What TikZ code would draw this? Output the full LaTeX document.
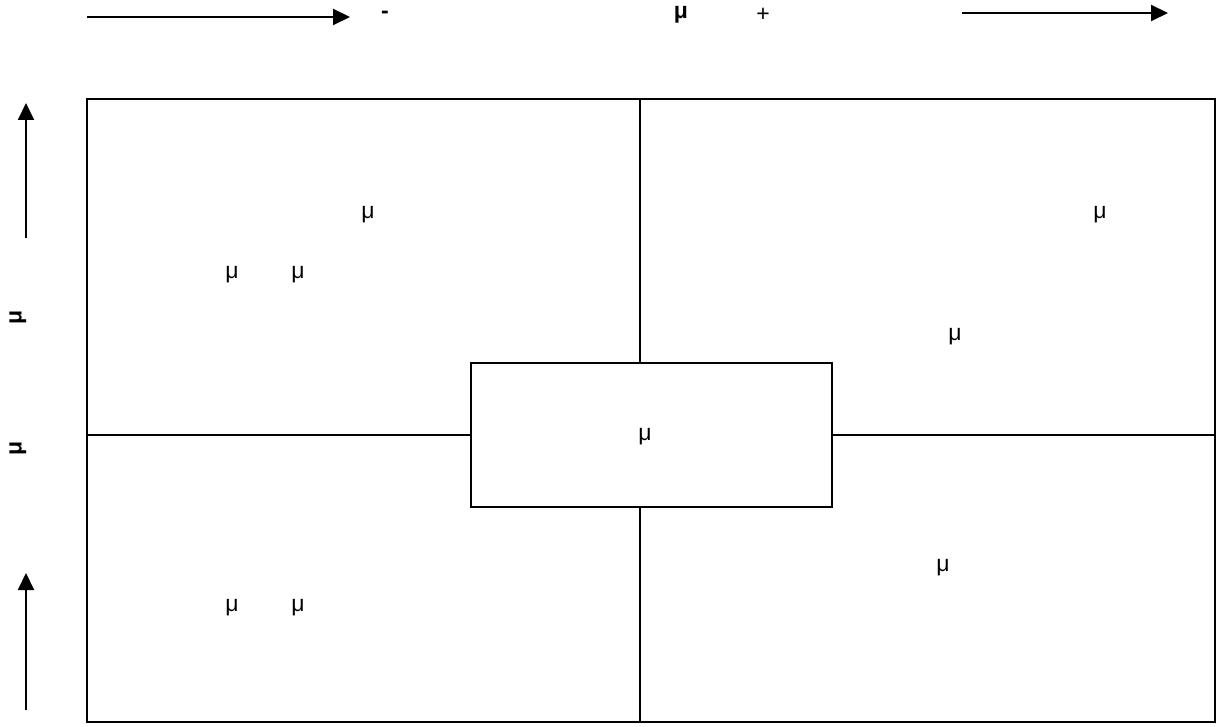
\documentclass[tikz,border=0pt]{standalone}
\usepackage{fontspec}
\setmainfont{Liberation Sans}
\usetikzlibrary{arrows.meta}
\begin{document}
\begin{tikzpicture}[x=1pt,y=-1pt,
  frm/.style={draw,line width=2pt,outer sep=0pt,inner sep=0pt},
  ln/.style={line width=2pt},
  arr/.style={line width=2pt,-{Triangle[length=17pt,width=16pt]}},
  lbl/.style={font=\fontsize{23}{26}\selectfont,inner sep=0pt},
  blbl/.style={font=\fontsize{23}{26}\selectfont\bfseries,inner sep=0pt}]
\useasboundingbox (0,0) rectangle (1218,727);
% frame and central box
\node[frm,minimum width=1128pt,minimum height=623pt] (frame) at (651,410.5) {};
\node[frm,minimum width=361pt,minimum height=144pt] (box) at (651.5,435) {};
\coordinate (vx) at (639.5,435);
\draw[ln] (frame.north -| vx) -- (box.north -| vx);
\draw[ln] (box.south -| vx) -- (frame.south -| vx);
\draw[ln] (frame.west |- vx) -- (box.west |- vx);
\draw[ln] (box.east |- vx) -- (frame.east |- vx);
% arrows
\coordinate (a1s) at (87,17);
\coordinate (a1e) at (350,17);
\coordinate (a2s) at (962,13);
\coordinate (a2e) at (1168,13);
\coordinate (a3s) at (26,238);
\coordinate (a3e) at (26,103);
\coordinate (a4s) at (26,710);
\coordinate (a4e) at (26,573);
\draw[arr] (a1s) -- (a1e);
\draw[arr] (a2s) -- (a2e);
\draw[arr] (a3s) -- (a3e);
\draw[arr] (a4s) -- (a4e);
% top labels
\node[blbl] (minus) at (385,15) {-};
\node[blbl] (mutop) at (681,15) {μ};
\node[lbl] (plus) at (763,15) {+};
% left labels
\node[blbl,rotate=90] (muleft1) at (18,317) {μ};
\node[blbl,rotate=90] (muleft2) at (18,448) {μ};
% inner labels
\node[lbl] (q1a) at (368,215) {μ};
\node[lbl] (q1b) at (232,275) {μ};
\node[lbl] (q1c) at (298,275) {μ};
\node[lbl] (q2a) at (1100,215) {μ};
\node[lbl] (q2b) at (955,337) {μ};
\node[lbl] (q3a) at (232,608) {μ};
\node[lbl] (q3b) at (298,608) {μ};
\node[lbl] (q4a) at (943,568) {μ};
\node[lbl] (boxlbl) at (645,437) {μ};
\end{tikzpicture}
\end{document}
